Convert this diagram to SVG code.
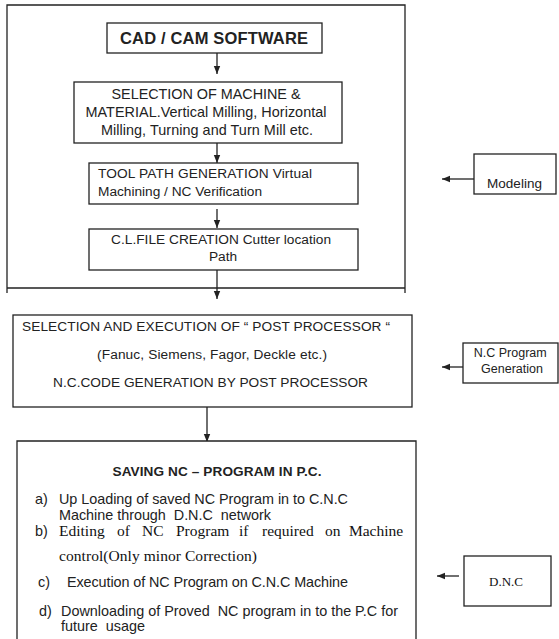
<svg xmlns="http://www.w3.org/2000/svg" width="559" height="639" viewBox="0 0 559 639">
<style>
.box{fill:#fff;stroke:#222;stroke-width:1.3}
.ln{fill:none;stroke:#222;stroke-width:1.3}
.t{font-family:"Liberation Sans",Arial,sans-serif;fill:#222}
.s{font-family:"Liberation Serif","Times New Roman",serif;fill:#111}
.b{font-weight:bold}
</style>
<defs>
<marker id="ah" markerUnits="userSpaceOnUse" markerWidth="8" markerHeight="8" viewBox="0 0 8 8" refX="8" refY="4" orient="auto">
<path d="M0,0.8 L8,4 L0,7.2 z" fill="#222"/>
</marker>
</defs>
<rect width="559" height="639" fill="#fff"/>
<g id="frame">
<path class="ln" d="M7,293 V5 H405 V293 M7,288 H405"/>
</g>
<g id="connectors">
<line class="ln" x1="217" y1="53" x2="217" y2="74" marker-end="url(#ah)"/>
<line class="ln" x1="217" y1="143" x2="217" y2="163" marker-end="url(#ah)"/>
<line class="ln" x1="217" y1="209" x2="217" y2="228" marker-end="url(#ah)"/>
<line class="ln" x1="217" y1="270" x2="217" y2="299" marker-end="url(#ah)"/>
<line class="ln" x1="207" y1="398" x2="207" y2="442" marker-end="url(#ah)"/>
<line class="ln" x1="474" y1="179" x2="442" y2="179" marker-end="url(#ah)"/>
<line class="ln" x1="463" y1="367" x2="442" y2="367" marker-end="url(#ah)"/>
<line class="ln" x1="459" y1="576" x2="437" y2="576" marker-end="url(#ah)"/>
</g>
<g id="cadcam">
<rect class="box" x="107" y="23" width="215" height="30"/>
<text class="t b" x="214" y="44" font-size="16.5" text-anchor="middle" textLength="188">CAD / CAM SOFTWARE</text>
</g>
<g id="selection">
<rect class="box" x="74" y="82" width="268" height="61"/>
<text class="t" font-size="14.4" text-anchor="middle">
<tspan x="208" y="99" textLength="189">SELECTION OF MACHINE &amp;</tspan>
<tspan x="208" y="117" textLength="241">MATERIAL.Vertical Milling, Horizontal</tspan>
<tspan x="207" y="135" textLength="212">Milling, Turning and Turn Mill etc.</tspan>
</text>
</g>
<g id="toolpath">
<rect class="box" x="89" y="163" width="269" height="41"/>
<text class="t" font-size="13.7">
<tspan x="98" y="178" textLength="214">TOOL PATH GENERATION Virtual</tspan>
<tspan x="98" y="196" textLength="164">Machining / NC Verification</tspan>
</text>
</g>
<g id="clfile">
<rect class="box" x="89" y="229" width="269" height="41"/>
<text class="t" font-size="13.7" text-anchor="middle">
<tspan x="223" y="244" textLength="220">C.L.FILE CREATION Cutter location</tspan>
<tspan x="223" y="261">Path</tspan>
</text>
</g>
<g id="postprocessor">
<rect class="box" x="13" y="315" width="399" height="92"/>
<text class="t" font-size="13.7">
<tspan x="22" y="331" textLength="368">SELECTION AND EXECUTION OF “ POST PROCESSOR “</tspan>
<tspan x="97" y="359" textLength="230">(Fanuc, Siemens, Fagor, Deckle etc.)</tspan>
<tspan x="53" y="387" textLength="315">N.C.CODE GENERATION BY POST PROCESSOR</tspan>
</text>
</g>
<g id="saving">
<path class="box" d="M17,639 V441 H416 V639"/>
<text class="t b" x="217" y="476" font-size="13.6" text-anchor="middle" textLength="209">SAVING NC – PROGRAM IN P.C.</text>
<text class="t" font-size="14.4" xml:space="preserve" style="white-space:pre"><tspan x="35" y="504">a)</tspan><tspan x="59" y="504" textLength="289">Up Loading of saved NC Program in to C.N.C</tspan><tspan x="59" y="520" textLength="212">Machine through  D.N.C  network</tspan></text>
<text class="t" x="35" y="536" font-size="14.4">b)</text>
<text class="s" font-size="15.5">
<tspan x="59" y="536">Editing</tspan>
<tspan x="117" y="536">of</tspan>
<tspan x="142" y="536">NC</tspan>
<tspan x="176" y="536">Program</tspan>
<tspan x="239" y="536">if</tspan>
<tspan x="262" y="536">required</tspan>
<tspan x="325" y="536">on</tspan>
<tspan x="407" y="536" text-anchor="end">Machine</tspan>
<tspan x="59" y="561" textLength="198">control(Only minor Correction)</tspan>
</text>
<text class="t" font-size="14.4" xml:space="preserve" style="white-space:pre"><tspan x="38" y="587">c)</tspan><tspan x="67" y="587" textLength="281">Execution of NC Program on C.N.C Machine</tspan><tspan x="39" y="616">d)</tspan><tspan x="61" y="616" textLength="337">Downloading of Proved  NC program in to the P.C for</tspan><tspan x="61" y="631">future  usage</tspan></text>
</g>
<g id="modeling">
<rect class="box" x="474" y="154" width="82" height="40"/>
<text class="t" x="487" y="188" font-size="13.5" textLength="55">Modeling</text>
</g>
<g id="ncprogram">
<rect class="box" x="463" y="343" width="95" height="40"/>
<text class="t" font-size="12.5" text-anchor="middle">
<tspan x="512" y="357">N.C Program</tspan>
<tspan x="512" y="373">Generation</tspan>
</text>
</g>
<g id="dnc">
<rect class="box" x="464" y="556" width="87" height="50"/>
<text class="s" x="506" y="586" font-size="13" text-anchor="middle">D.N.C</text>
</g>
</svg>
